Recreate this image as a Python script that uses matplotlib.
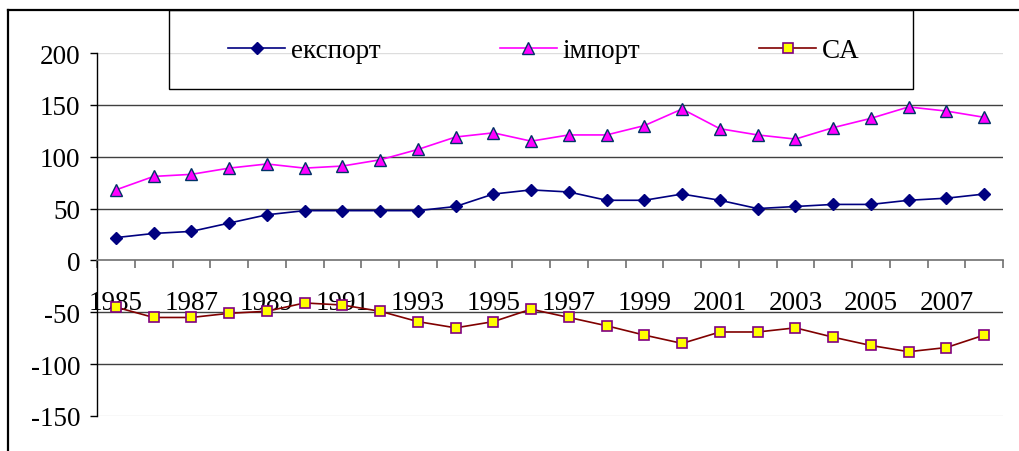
import matplotlib
matplotlib.use("Agg")
import matplotlib.pyplot as plt
from matplotlib.lines import Line2D
from matplotlib.patches import Rectangle
import numpy as np

years = list(range(1985, 2009))
export = [22, 26, 28, 36, 44, 48, 48, 48, 48, 52, 64, 68, 66, 58, 58, 64, 58, 50, 52, 54, 54, 58, 60, 64]
imports = [68, 81, 83, 89, 93, 89, 91, 97, 107, 119, 123, 115, 121, 121, 130, 146, 127, 121, 117, 128, 137, 148, 144, 138]
ca = [-45, -55, -55, -51, -49, -41, -43, -49, -59, -65, -59, -47, -55, -63, -72, -80, -69, -69, -65, -74, -82, -88, -84, -72]
series_names = ["експорт", "імпорт", "CA"]
yticks = [-150, -100, -50, 0, 50, 100, 150, 200]

FS = 19.5
W, H = 1019, 452
fig = plt.figure(figsize=(W / 100, H / 100), dpi=100)
plt.rcParams['font.family'] = ['Liberation Serif', 'DejaVu Serif']

ax = fig.add_axes([97 / W, 1 - 417 / H, (1003 - 97) / W, (417 - 54) / H])
x = np.arange(len(years))

l1, = ax.plot(x, export, color='#000080', lw=1.2, marker='D', markersize=6.5,
              markerfacecolor='#000080', markeredgecolor='#000080', zorder=4)
l2, = ax.plot(x, imports, color='#FF00FF', lw=1.2, marker='^', markersize=9,
              markerfacecolor='#FF00FF', markeredgecolor='#003366', markeredgewidth=1.0, zorder=4)
l3, = ax.plot(x, ca, color='#800000', lw=1.2, marker='s', markersize=7,
              markerfacecolor='#FFFF00', markeredgecolor='#800080', markeredgewidth=1.2, zorder=4)

ax.set_xlim(-0.5, len(years) - 0.5)
ax.set_ylim(-150, 200)

for v in yticks:
    if v in (200, -150):
        ax.axhline(v, color='#dddddd', lw=1.0, zorder=1)
    elif v != 0:
        ax.axhline(v, color='#404040', lw=1.0, zorder=1)

ax.spines['top'].set_visible(False)
ax.spines['right'].set_visible(False)
ax.spines['bottom'].set_position(('data', 0))
ax.spines['bottom'].set_color('#707070')
ax.spines['bottom'].set_linewidth(1.2)
ax.spines['left'].set_color('black')
ax.spines['left'].set_linewidth(1.0)

ax.set_yticks(yticks)
ax.set_yticklabels([str(v) for v in yticks], fontsize=FS)
ax.tick_params(axis='y', direction='out', length=5, width=1, pad=7, color='black')

# category boundaries as major ticks, labels at centers as minor ticks
ax.set_xticks(np.arange(len(years) + 1) - 0.5)
ax.set_xticklabels([])
ax.tick_params(axis='x', which='major', direction='out', length=6, width=1.2, color='#707070')
ax.set_xticks(x, minor=True)
ax.set_xticklabels([str(y) if y % 2 == 1 else '' for y in years], minor=True, fontsize=FS)
ax.tick_params(axis='x', which='minor', length=0, pad=21)

# outer frame
fig.add_artist(Line2D([8 / W, 1.0], [1 - 11 / H, 1 - 11 / H], color='black', lw=1.6,
                      transform=fig.transFigure))
fig.add_artist(Line2D([8 / W, 8 / W], [1 - 11 / H, 0.0], color='black', lw=1.6,
                      transform=fig.transFigure))

# legend box
fig.add_artist(Rectangle((169 / W, 1 - 90 / H), (913 - 169) / W, (90 - 11) / H,
                         fill=False, edgecolor='black', lw=1.0, transform=fig.transFigure))
leg = fig.legend([l1, l2, l3], series_names, loc='center',
                 bbox_to_anchor=((169 + 913) / 2 / W + 3 / W, 1 - 52 / H),
                 ncol=3, frameon=False, fontsize=FS, handlelength=2.1,
                 handletextpad=0.22, columnspacing=4.4, borderpad=0)

fig.savefig('out.png', dpi=100)
